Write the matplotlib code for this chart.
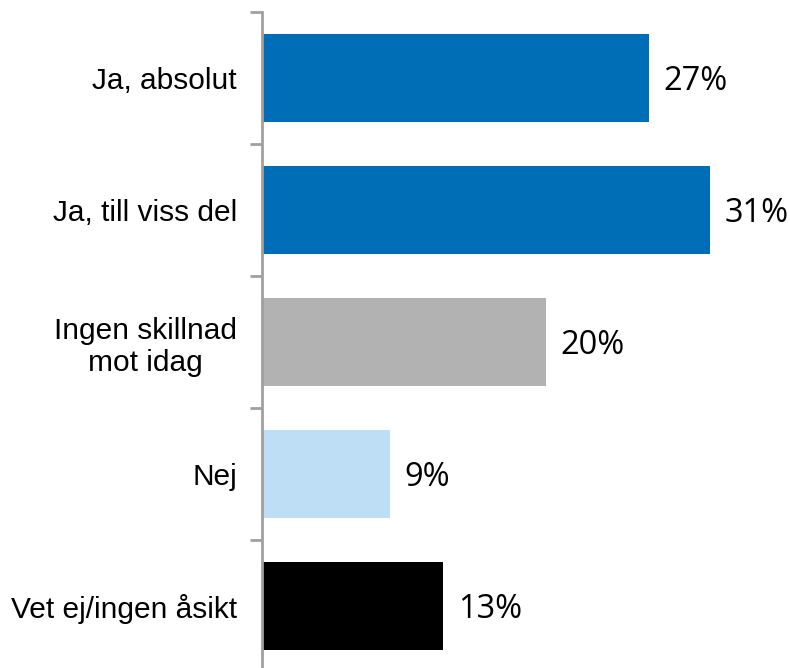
import numpy as np
import matplotlib.pyplot as plt

categories = ['Ja, absolut', 'Ja, till viss del', 'Ingen skillnad\nmot idag', 'Nej', 'Vet ej/ingen åsikt']
values = [26.9, 31.1, 19.7, 8.9, 12.6]
value_labels = ['27%', '31%', '20%', '9%', '13%']
colors = ['#006EB6', '#006EB6', '#B2B2B2', '#BDDEF5', '#000000']

fig = plt.figure(figsize=(7.9, 6.68), dpi=100)
ax = fig.add_axes([262 / 790, -4 / 668, 528 / 790, 660 / 668])

y = np.arange(len(categories))
ax.barh(y, values, height=0.667, color=colors, zorder=2)

for yi, v, lab in zip(y, values, value_labels):
    ax.text(v + 1.0, yi + 0.03, lab, va='center', ha='left', fontsize=23.5,
            family='Open Sans', color='black')

ax.set_xlim(0, 528 / 14.4)
ax.set_ylim(len(categories) - 0.5, -0.5)

ax.set_yticks(y)
ax.set_yticklabels(categories, fontsize=21.5, family='Liberation Sans')
for t in ax.get_yticklabels():
    t.set_multialignment('center')
ax.tick_params(axis='y', which='major', length=0, pad=18)
ax.set_yticks(np.arange(-0.5, len(categories)), minor=True)
ax.tick_params(axis='y', which='minor', length=9, width=2, color='#A0A0A0', direction='out')

ax.set_xticks([])
for s in ['top', 'right', 'bottom']:
    ax.spines[s].set_visible(False)
ax.spines['left'].set_color('#A0A0A0')
ax.spines['left'].set_linewidth(2)

fig.savefig('out.png', dpi=100)
